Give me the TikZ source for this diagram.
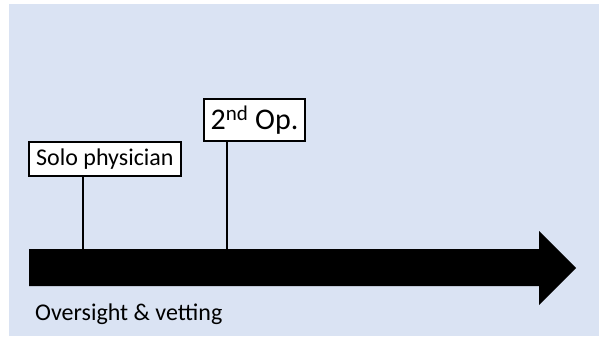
\documentclass[tikz,border=0pt]{standalone}
\usepackage{fontspec}
\setmainfont{Carlito}
\definecolor{bgblue}{HTML}{DAE3F3}
\tikzset{
  lbl/.style={draw=black, line width=1.8pt, fill=white, inner sep=0pt, font=\fontsize{24}{28}\selectfont},
  stem/.style={draw=black, line width=2.4pt},
  bigarrow/.style={fill=black}
}
\begin{document}
\begin{tikzpicture}[x=1pt, y=-1pt]
\useasboundingbox (0,0) rectangle (605,337);
\fill[bgblue] (9,4) rectangle (599,336);
% big arrow
\fill[bigarrow] (29,249) -- (539,249) -- (539,231) -- (576,268) -- (539,305) -- (539,286) -- (29,286) -- cycle;
\coordinate (p1) at (83,249);
\coordinate (p2) at (227,249);
% labels
\node[lbl, minimum width=152pt, minimum height=34pt] (solo) at (104.9,159) {Solo physician};
\node[lbl, minimum width=101pt, minimum height=42pt, font=\fontsize{30}{34}\selectfont] (second) at (254.5,120) {2\textsuperscript{nd} Op.};
\draw[stem] (solo.south -| p1) -- (p1);
\draw[stem] (second.south -| p2) -- (p2);
\node[anchor=base west, inner sep=0pt, font=\fontsize{24}{28}\selectfont] (ov) at (35,320) {Oversight \& vetting};
\end{tikzpicture}
\end{document}
